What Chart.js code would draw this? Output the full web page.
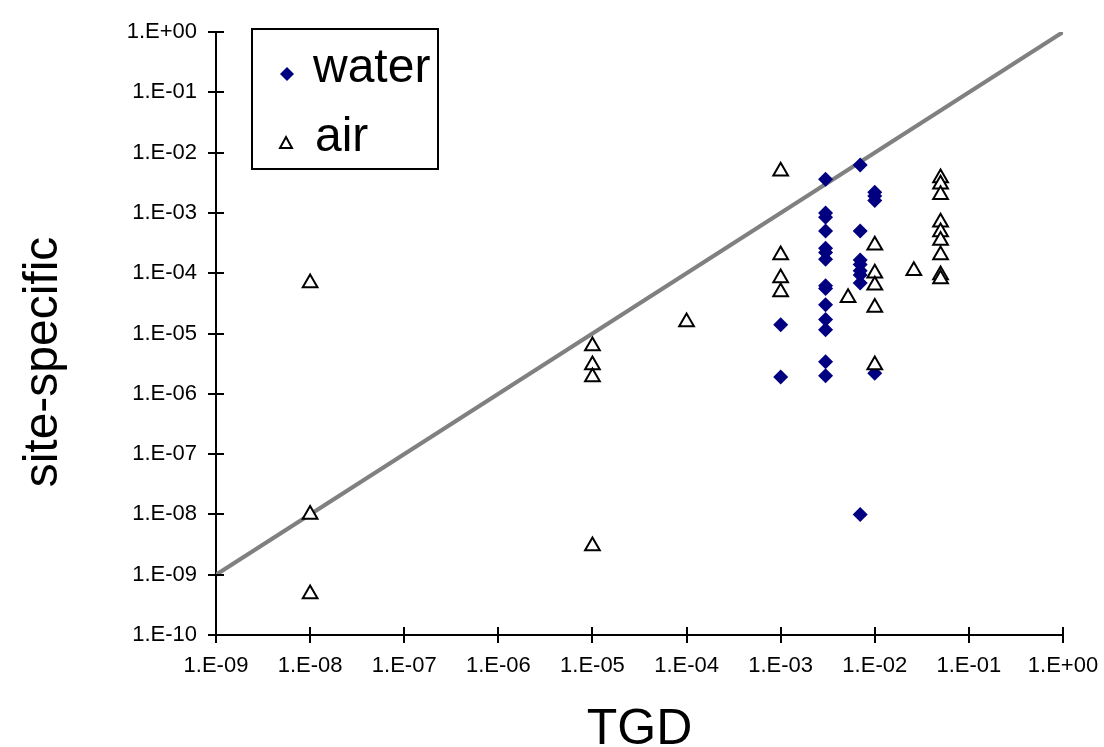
<!DOCTYPE html>
<html>
<head>
<meta charset="utf-8">
<script src="https://cdn.jsdelivr.net/npm/chart.js@4.4.0/dist/chart.umd.min.js"></script>
<style>
  body { margin: 0; background: #fff; }
  canvas { display: block; }
</style>
</head>
<body>
<canvas id="grafico" width="1104" height="747"></canvas>
<script>
// valores (eixos log)
var waterX = [1e-3, 1e-3,
  3e-3, 3e-3, 3e-3, 3e-3, 3e-3, 3e-3, 3e-3, 3e-3, 3e-3, 3e-3, 3e-3, 3e-3, 3e-3, 3e-3,
  7e-3, 7e-3, 7e-3, 7e-3, 7e-3, 7e-3, 7e-3, 7e-3,
  1e-2, 1e-2, 1e-2, 1e-2];
var waterY = [1.4e-5, 1.9e-6,
  3.6e-3, 1.0e-3, 8.5e-4, 5.0e-4, 2.6e-4, 2.2e-4, 1.7e-4, 6.2e-5, 5.6e-5, 3.0e-5, 1.7e-5, 1.15e-5, 3.4e-6, 2.0e-6,
  6.2e-3, 5.0e-4, 1.65e-4, 1.4e-4, 1.1e-4, 9.3e-5, 6.9e-5, 1.0e-8,
  2.2e-3, 1.9e-3, 1.6e-3, 2.2e-6];

var airX = [1e-8, 1e-8, 1e-8,
  1e-5, 1e-5, 1e-5, 1e-5,
  1e-4,
  1e-3, 1e-3, 1e-3, 1e-3,
  5.2e-3,
  1e-2, 1e-2, 1e-2, 1e-2, 1e-2,
  2.6e-2,
  5e-2, 5e-2, 5e-2, 5e-2, 5e-2, 5e-2, 5e-2, 5e-2, 5e-2];
var airY = [6.9e-5, 1e-8, 4.8e-10,
  6.2e-6, 3e-6, 1.9e-6, 3e-9,
  1.55e-5,
  4.9e-3, 2e-4, 8.3e-5, 4.9e-5,
  3.9e-5,
  2.9e-4, 1e-4, 6.3e-5, 2.7e-5, 3e-6,
  1.1e-4,
  3.8e-3, 3e-3, 2e-3, 7e-4, 4.8e-4, 3.5e-4, 2e-4, 9.3e-5, 8e-5];

// linha 1:1
var linhaX = [1e-9, 1];
var linhaY = [1e-9, 1];

var decadasX = [-9, -8, -7, -6, -5, -4, -3, -2, -1, 0];
var decadasY = [-10, -9, -8, -7, -6, -5, -4, -3, -2, -1, 0];

var tituloY = "site-specific";
var tituloX = "TGD";

var fonte = "'Liberation Sans', Arial, sans-serif";

function pares(xs, ys) {
  return xs.map(function (x, i) { return { x: x, y: ys[i] }; });
}

function formatarExp(v) {
  var e = Math.round(Math.log10(v));
  var s = Math.abs(e) < 10 ? "0" + Math.abs(e) : "" + Math.abs(e);
  return "1.E" + (e < 0 ? "-" : "+") + s;
}

var datasetWater = {
  label: "water",
  data: pares(waterX, waterY),
  pointStyle: "rectRot",
  pointRadius: 7.5,
  backgroundColor: "#000080",
  borderColor: "#000080",
  borderWidth: 0,
  order: 2,
};

var datasetAir = {
  label: "air",
  data: pares(airX, airY),
  pointStyle: "triangle",
  pointRadius: 8.5,
  backgroundColor: "#ffffff",
  borderColor: "#000000",
  borderWidth: 2,
  order: 1,
};

var datasetLinha = {
  type: "line",
  label: "1:1",
  data: pares(linhaX, linhaY),
  borderColor: "#808080",
  borderWidth: 4,
  pointRadius: 0,
  fill: false,
  order: 3,
};

// ticks cruzando o eixo (parte de dentro)
var ticksCruzados = {
  id: "ticksCruzados",
  afterDraw: function (chart) {
    var ctx = chart.ctx;
    var xs = chart.scales.x, ys = chart.scales.y;
    ctx.save();
    ctx.strokeStyle = "#000";
    ctx.lineWidth = 2;
    ctx.beginPath();
    xs.ticks.forEach(function (t) {
      var px = Math.round(xs.getPixelForValue(t.value));
      ctx.moveTo(px, xs.top);
      ctx.lineTo(px, xs.top - 8);
    });
    ys.ticks.forEach(function (t) {
      var py = Math.round(ys.getPixelForValue(t.value));
      ctx.moveTo(ys.right, py);
      ctx.lineTo(ys.right + 8, py);
    });
    ctx.stroke();

    // titulo do eixo y, um pouco abaixo do centro como no original
    ctx.fillStyle = "#000";
    ctx.font = "48px " + fonte;
    ctx.textAlign = "center";
    ctx.textBaseline = "middle";
    ctx.translate(44, chart.chartArea.top + 330);
    ctx.rotate(-Math.PI / 2);
    ctx.fillText(tituloY, 0, 0);
    ctx.restore();
  },
};

// legenda com caixa dentro da area
var legendaCaixa = {
  id: "legendaCaixa",
  afterDraw: function (chart) {
    var ctx = chart.ctx;
    var a = chart.chartArea;
    var bx = a.left + 36, by = a.top - 3;
    ctx.save();
    ctx.fillStyle = "#fff";
    ctx.fillRect(bx, by, 186, 140);
    ctx.strokeStyle = "#000";
    ctx.lineWidth = 2;
    ctx.strokeRect(bx, by, 186, 140);

    // diamante
    var dx = bx + 35, dy = by + 45;
    ctx.fillStyle = datasetWater.backgroundColor;
    ctx.beginPath();
    ctx.moveTo(dx, dy - 7);
    ctx.lineTo(dx + 7, dy);
    ctx.lineTo(dx, dy + 7);
    ctx.lineTo(dx - 7, dy);
    ctx.closePath();
    ctx.fill();

    // triangulo
    var tx = bx + 34, ty = by + 114;
    ctx.fillStyle = "#fff";
    ctx.strokeStyle = "#000";
    ctx.lineWidth = 2;
    ctx.beginPath();
    ctx.moveTo(tx, ty - 6);
    ctx.lineTo(tx + 6, ty + 5);
    ctx.lineTo(tx - 6, ty + 5);
    ctx.closePath();
    ctx.fill();
    ctx.stroke();

    ctx.fillStyle = "#000";
    ctx.font = "48px " + fonte;
    ctx.textBaseline = "alphabetic";
    ctx.fillText(datasetWater.label, bx + 61, by + 53);
    ctx.fillText(datasetAir.label, bx + 63, by + 122);
    ctx.restore();
  },
};

var config = {
  type: "scatter",
  data: {
    datasets: [datasetWater, datasetAir, datasetLinha],
  },
  options: {
    responsive: false,
    animation: false,
    layout: {
      padding: { left: 0, right: 41, top: 32, bottom: 0 },
    },
    plugins: {
      legend: { display: false },
      tooltip: { enabled: false },
    },
    scales: {
      x: {
        type: "logarithmic",
        position: "bottom",
        min: 1e-9,
        max: 1,
        afterBuildTicks: function (scale) {
          scale.ticks = decadasX.map(function (e) { return { value: Math.pow(10, e) }; });
        },
        afterFit: function (scale) {
          scale.height = 112;
          scale.paddingLeft = 0;
          scale.paddingRight = 0;
        },
        border: { display: true, color: "#000", width: 2 },
        grid: { drawOnChartArea: false, color: "#000", lineWidth: 2, tickLength: 8 },
        ticks: {
          color: "#000",
          padding: 10,
          maxRotation: 0,
          autoSkip: false,
          font: { family: fonte, size: 22 },
          callback: function (v) { return formatarExp(v); },
        },
        title: {
          display: true,
          text: tituloX,
          color: "#000",
          padding: 0,
          font: { family: fonte, size: 50, lineHeight: 0.66 },
        },
      },
      y: {
        type: "logarithmic",
        position: "left",
        min: 1e-10,
        max: 1,
        afterBuildTicks: function (scale) {
          scale.ticks = decadasY.map(function (e) { return { value: Math.pow(10, e) }; });
        },
        afterFit: function (scale) {
          scale.width = 216;
          scale.paddingTop = 0;
          scale.paddingBottom = 0;
        },
        border: { display: true, color: "#000", width: 2 },
        grid: { drawOnChartArea: false, color: "#000", lineWidth: 2, tickLength: 8 },
        ticks: {
          color: "#000",
          padding: 11,
          autoSkip: false,
          font: { family: fonte, size: 22 },
          callback: function (v) { return formatarExp(v); },
        },
      },
    },
  },
  plugins: [ticksCruzados, legendaCaixa],
};

var grafico = new Chart(document.getElementById("grafico"), config);
</script>
</body>
</html>
